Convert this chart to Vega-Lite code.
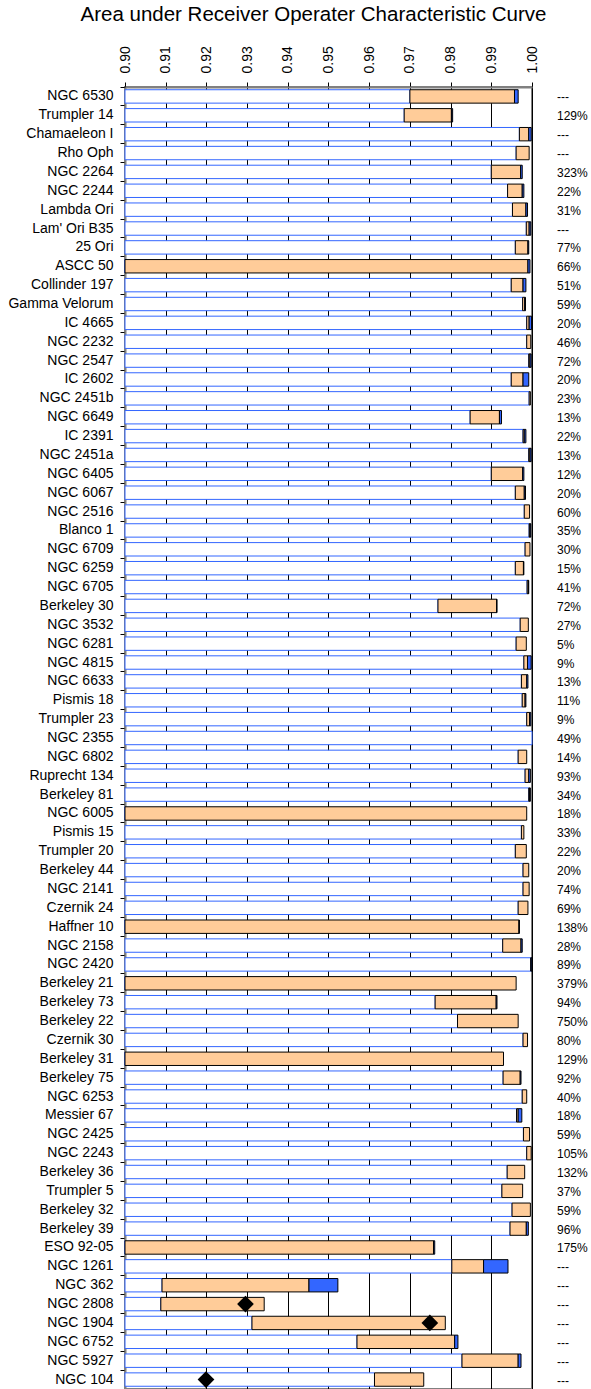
{
  "$schema": "https://vega.github.io/schema/vega-lite/v6.json",
  "width": 407,
  "height": 1302,
  "autosize": {"type": "none"},
  "padding": {"left": 125, "top": 87, "right": 59, "bottom": 0},
  "title": {"text": "Area under Receiver Operater Characteristic Curve", "fontSize": 20.5, "fontWeight": "normal", "color": "#000000", "anchor": "middle", "frame": "group", "offset": 20, "dx": -15},
  "config": {
    "font": "Liberation Sans",
    "view": {"stroke": "#808080", "strokeWidth": 2},
    "background": "#ffffff"
  },
  "data": {"values": [
    {"n": "NGC 6530", "lo": 0.970, "mid": 0.9957, "hi": 0.9966, "d": null, "p": "---"},
    {"n": "Trumpler 14", "lo": 0.9686, "mid": 0.9802, "hi": 0.9805, "d": null, "p": "129%"},
    {"n": "Chamaeleon I", "lo": 0.9969, "mid": 0.9992, "hi": 0.9998, "d": null, "p": "---"},
    {"n": "Rho Oph", "lo": 0.9961, "mid": 0.9993, "hi": 0.9993, "d": null, "p": "---"},
    {"n": "NGC 2264", "lo": 0.990, "mid": 0.9972, "hi": 0.9976, "d": null, "p": "323%"},
    {"n": "NGC 2244", "lo": 0.9940, "mid": 0.9976, "hi": 0.9980, "d": null, "p": "22%"},
    {"n": "Lambda Ori", "lo": 0.9952, "mid": 0.9985, "hi": 0.9989, "d": null, "p": "31%"},
    {"n": "Lam' Ori B35", "lo": 0.9986, "mid": 0.9993, "hi": 0.9997, "d": null, "p": "---"},
    {"n": "25 Ori", "lo": 0.9959, "mid": 0.9990, "hi": 0.9992, "d": null, "p": "77%"},
    {"n": "ASCC 50", "lo": 0.900, "mid": 0.9990, "hi": 0.9995, "d": null, "p": "66%"},
    {"n": "Collinder 197", "lo": 0.9949, "mid": 0.9978, "hi": 0.9985, "d": null, "p": "51%"},
    {"n": "Gamma Velorum", "lo": 0.9977, "mid": 0.9982, "hi": 0.9984, "d": null, "p": "59%"},
    {"n": "IC 4665", "lo": 0.9987, "mid": 0.9993, "hi": 0.9999, "d": null, "p": "20%"},
    {"n": "NGC 2232", "lo": 0.9987, "mid": 0.9997, "hi": 0.9997, "d": null, "p": "46%"},
    {"n": "NGC 2547", "lo": 0.9992, "mid": 0.9995, "hi": 0.9998, "d": null, "p": "72%"},
    {"n": "IC 2602", "lo": 0.9949, "mid": 0.9978, "hi": 0.9992, "d": null, "p": "20%"},
    {"n": "NGC 2451b", "lo": 0.9993, "mid": 0.9996, "hi": 0.9996, "d": null, "p": "23%"},
    {"n": "NGC 6649", "lo": 0.9848, "mid": 0.9920, "hi": 0.9925, "d": null, "p": "13%"},
    {"n": "IC 2391", "lo": 0.9978, "mid": 0.9981, "hi": 0.9985, "d": null, "p": "22%"},
    {"n": "NGC 2451a", "lo": 0.9992, "mid": 0.9995, "hi": 0.9998, "d": null, "p": "13%"},
    {"n": "NGC 6405", "lo": 0.990, "mid": 0.9977, "hi": 0.9980, "d": null, "p": "12%"},
    {"n": "NGC 6067", "lo": 0.9959, "mid": 0.9981, "hi": 0.9984, "d": null, "p": "20%"},
    {"n": "NGC 2516", "lo": 0.9981, "mid": 0.9994, "hi": 0.9994, "d": null, "p": "60%"},
    {"n": "Blanco 1", "lo": 0.9993, "mid": 0.9995, "hi": 0.9997, "d": null, "p": "35%"},
    {"n": "NGC 6709", "lo": 0.9983, "mid": 0.9995, "hi": 0.9995, "d": null, "p": "30%"},
    {"n": "NGC 6259", "lo": 0.9959, "mid": 0.9979, "hi": 0.9980, "d": null, "p": "15%"},
    {"n": "NGC 6705", "lo": 0.9988, "mid": 0.9991, "hi": 0.9992, "d": null, "p": "41%"},
    {"n": "Berkeley 30", "lo": 0.9769, "mid": 0.9913, "hi": 0.9914, "d": null, "p": "72%"},
    {"n": "NGC 3532", "lo": 0.9971, "mid": 0.9991, "hi": 0.9991, "d": null, "p": "27%"},
    {"n": "NGC 6281", "lo": 0.9961, "mid": 0.9986, "hi": 0.9986, "d": null, "p": "5%"},
    {"n": "NGC 4815", "lo": 0.9980, "mid": 0.9989, "hi": 0.9998, "d": null, "p": "9%"},
    {"n": "NGC 6633", "lo": 0.9974, "mid": 0.9987, "hi": 0.9990, "d": null, "p": "13%"},
    {"n": "Pismis 18", "lo": 0.9976, "mid": 0.9983, "hi": 0.9985, "d": null, "p": "11%"},
    {"n": "Trumpler 23", "lo": 0.9987, "mid": 0.9994, "hi": 0.9997, "d": null, "p": "9%"},
    {"n": "NGC 2355", "lo": 1.0, "mid": 1.0, "hi": 1.0, "d": null, "p": "49%"},
    {"n": "NGC 6802", "lo": 0.9966, "mid": 0.9987, "hi": 0.9987, "d": null, "p": "14%"},
    {"n": "Ruprecht 134", "lo": 0.9983, "mid": 0.9992, "hi": 0.9996, "d": null, "p": "93%"},
    {"n": "Berkeley 81", "lo": 0.9992, "mid": 0.9994, "hi": 0.9996, "d": null, "p": "34%"},
    {"n": "NGC 6005", "lo": 0.900, "mid": 0.9987, "hi": 0.9987, "d": null, "p": "18%"},
    {"n": "Pismis 15", "lo": 0.9974, "mid": 0.9980, "hi": 0.9980, "d": null, "p": "33%"},
    {"n": "Trumpler 20", "lo": 0.9959, "mid": 0.9986, "hi": 0.9986, "d": null, "p": "22%"},
    {"n": "Berkeley 44", "lo": 0.9978, "mid": 0.9992, "hi": 0.9992, "d": null, "p": "20%"},
    {"n": "NGC 2141", "lo": 0.9978, "mid": 0.9993, "hi": 0.9993, "d": null, "p": "74%"},
    {"n": "Czernik 24", "lo": 0.9966, "mid": 0.9990, "hi": 0.9990, "d": null, "p": "69%"},
    {"n": "Haffner 10", "lo": 0.900, "mid": 0.9968, "hi": 0.9969, "d": null, "p": "138%"},
    {"n": "NGC 2158", "lo": 0.9928, "mid": 0.9973, "hi": 0.9976, "d": null, "p": "28%"},
    {"n": "NGC 2420", "lo": 0.9997, "mid": 0.9998, "hi": 1.0, "d": null, "p": "89%"},
    {"n": "Berkeley 21", "lo": 0.900, "mid": 0.9961, "hi": 0.9961, "d": null, "p": "379%"},
    {"n": "Berkeley 73", "lo": 0.9762, "mid": 0.9912, "hi": 0.9914, "d": null, "p": "94%"},
    {"n": "Berkeley 22", "lo": 0.9817, "mid": 0.9966, "hi": 0.9966, "d": null, "p": "750%"},
    {"n": "Czernik 30", "lo": 0.9978, "mid": 0.9989, "hi": 0.9989, "d": null, "p": "80%"},
    {"n": "Berkeley 31", "lo": 0.900, "mid": 0.9930, "hi": 0.9930, "d": null, "p": "129%"},
    {"n": "Berkeley 75", "lo": 0.9929, "mid": 0.9971, "hi": 0.9973, "d": null, "p": "92%"},
    {"n": "NGC 6253", "lo": 0.9976, "mid": 0.9987, "hi": 0.9987, "d": null, "p": "40%"},
    {"n": "Messier 67", "lo": 0.9962, "mid": 0.9966, "hi": 0.9975, "d": null, "p": "18%"},
    {"n": "NGC 2425", "lo": 0.9979, "mid": 0.9994, "hi": 0.9994, "d": null, "p": "59%"},
    {"n": "NGC 2243", "lo": 0.9987, "mid": 0.9998, "hi": 0.9998, "d": null, "p": "105%"},
    {"n": "Berkeley 36", "lo": 0.9939, "mid": 0.9982, "hi": 0.9982, "d": null, "p": "132%"},
    {"n": "Trumpler 5", "lo": 0.9926, "mid": 0.9977, "hi": 0.9977, "d": null, "p": "37%"},
    {"n": "Berkeley 32", "lo": 0.9951, "mid": 0.9996, "hi": 0.9996, "d": null, "p": "59%"},
    {"n": "Berkeley 39", "lo": 0.9946, "mid": 0.9986, "hi": 0.9991, "d": null, "p": "96%"},
    {"n": "ESO 92-05", "lo": 0.900, "mid": 0.9758, "hi": 0.9761, "d": null, "p": "175%"},
    {"n": "NGC 1261", "lo": 0.9803, "mid": 0.9881, "hi": 0.9941, "d": null, "p": "---"},
    {"n": "NGC 362", "lo": 0.9091, "mid": 0.9452, "hi": 0.9523, "d": null, "p": "---"},
    {"n": "NGC 2808", "lo": 0.9088, "mid": 0.9342, "hi": 0.9342, "d": 0.9296, "p": "---"},
    {"n": "NGC 1904", "lo": 0.9312, "mid": 0.9787, "hi": 0.9787, "d": 0.9749, "p": "---"},
    {"n": "NGC 6752", "lo": 0.9570, "mid": 0.9810, "hi": 0.9818, "d": null, "p": "---"},
    {"n": "NGC 5927", "lo": 0.9828, "mid": 0.9966, "hi": 0.9973, "d": null, "p": "---"},
    {"n": "NGC 104", "lo": 0.9613, "mid": 0.9734, "hi": 0.9734, "d": 0.9199, "p": "---"}
  ]},
  "encoding": {
    "y": {
      "field": "n", "type": "nominal", "sort": null,
      "scale": {"paddingInner": 0, "paddingOuter": 0},
      "axis": {"title": null, "bandPosition": 0, "labelFontSize": 14, "labelColor": "#000000", "labelPadding": 7, "tickSize": 5, "tickColor": "#000000", "domainColor": "#808080", "domainWidth": 2, "grid": false, "labelLimit": 0}
    }
  },
  "layer": [
    {
      "mark": {"type": "bar", "height": {"band": 0.71}, "fill": "#ffffff", "stroke": "#3366ff", "strokeWidth": 1},
      "encoding": {
        "x": {"field": "lo", "type": "quantitative",
          "scale": {"domain": [0.9, 1.0], "nice": false, "zero": false},
          "axis": {"orient": "top", "title": null, "values": [0.9, 0.91, 0.92, 0.93, 0.94, 0.95, 0.96, 0.97, 0.98, 0.99, 1.0], "format": ".2f", "labelAngle": 270, "labelAlign": "left", "labelBaseline": "middle", "labelFontSize": 14, "labelColor": "#000000", "labelPadding": 9, "tickSize": 5, "tickColor": "#000000", "domainColor": "#808080", "domainWidth": 2, "grid": true, "gridColor": "#000000", "gridWidth": 1, "gridOpacity": 1, "labelFlush": false, "labelOverlap": false}},
        "x2": {"datum": 0.9}
      }
    },
    {
      "transform": [{"filter": "datum.mid > datum.lo"}],
      "mark": {"type": "bar", "height": {"band": 0.71}, "fill": "#ffcc99", "stroke": "#000000", "strokeWidth": 1},
      "encoding": {
        "x": {"field": "lo", "type": "quantitative"},
        "x2": {"field": "mid"}
      }
    },
    {
      "transform": [{"filter": "datum.hi > datum.mid"}],
      "mark": {"type": "bar", "height": {"band": 0.71}, "fill": "#3366ff", "stroke": "#000000", "strokeWidth": 1},
      "encoding": {
        "x": {"field": "mid", "type": "quantitative"},
        "x2": {"field": "hi"}
      }
    },
    {
      "mark": {"type": "point", "shape": "diamond", "filled": true, "color": "#000000", "opacity": 1, "size": 280},
      "encoding": {
        "x": {"field": "d", "type": "quantitative"}
      }
    },
    {
      "mark": {"type": "text", "align": "left", "baseline": "middle", "dx": 25, "dy": 1, "fontSize": 12, "color": "#000000"},
      "encoding": {
        "x": {"datum": 1.0, "type": "quantitative"},
        "text": {"field": "p"}
      }
    }
  ]
}
